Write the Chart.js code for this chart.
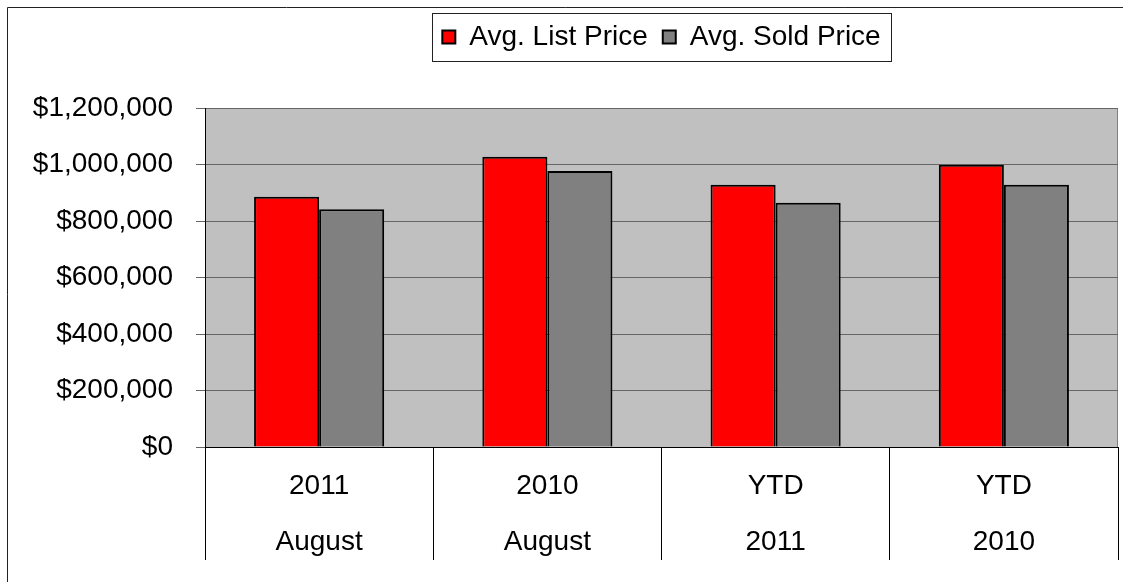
<!DOCTYPE html>
<html lang="en">
<head>
  <meta charset="UTF-8" />
  <title>Avg. List Price vs Avg. Sold Price</title>
  <script src="https://cdn.jsdelivr.net/npm/chart.js"></script>
  <style>
    body { margin: 0; padding: 0; background: #fff; }
    canvas { display: block; }
  </style>
</head>
<body>
<canvas id="priceChart" width="1123" height="582"></canvas>
<script>
// values
const categories = [['2011', 'August'], ['2010', 'August'], ['YTD', '2011'], ['YTD', '2010']];
const listPrice = [886000, 1027000, 928000, 999000];
const soldPrice = [842000, 977000, 865000, 928000];
const seriesNames = ['Avg. List Price', 'Avg. Sold Price'];

const FONT = "'Liberation Sans', Arial, sans-serif";

// plot background, outer frame and the box round the legend
const framePlugin = {
  id: 'frame',
  beforeInit(chart) {
    // leave room between legend and plot, like the original
    const fit = chart.legend.fit;
    chart.legend.fit = function () {
      fit.call(this);
      this.height += 47;
    };
  },
  beforeDraw(chart) {
    const { ctx, chartArea: a } = chart;
    ctx.save();
    ctx.fillStyle = '#c0c0c0';
    ctx.fillRect(a.left, a.top, a.right - a.left, a.bottom - a.top);
    ctx.strokeStyle = '#808080';
    ctx.lineWidth = 1;
    ctx.beginPath();
    ctx.moveTo(a.right - 0.5, a.top);
    ctx.lineTo(a.right - 0.5, a.bottom);
    ctx.stroke();
    ctx.strokeStyle = '#222';
    ctx.beginPath();
    ctx.moveTo(7.5, chart.height);
    ctx.lineTo(7.5, 7.5);
    ctx.lineTo(chart.width, 7.5);
    ctx.stroke();
    ctx.restore();
  },
  afterDraw(chart) {
    const boxes = chart.legend.legendHitBoxes;
    if (!boxes || !boxes.length) return;
    const first = boxes[0], last = boxes[boxes.length - 1];
    const { ctx } = chart;
    ctx.save();
    ctx.strokeStyle = '#222';
    ctx.lineWidth = 1;
    const x0 = Math.round(first.left - 10) + 0.5;
    const x1 = Math.round(last.left + last.width + 10) + 0.5;
    const y0 = Math.round(first.top - 10) + 0.5;
    const y1 = Math.round(first.top + first.height + 10) + 0.5;
    ctx.strokeRect(x0, y0, x1 - x0, y1 - y0);
    ctx.restore();
  }
};

new Chart(document.getElementById('priceChart'), {
  type: 'bar',
  data: {
    labels: categories,
    datasets: [
      { label: seriesNames[0], data: listPrice, backgroundColor: '#ff0000', borderColor: '#000', borderWidth: 2 },
      { label: seriesNames[1], data: soldPrice, backgroundColor: '#808080', borderColor: '#000', borderWidth: 2 }
    ]
  },
  options: {
    responsive: false,
    animation: false,
    devicePixelRatio: 1,
    layout: { padding: { left: 0, right: 5, top: 8, bottom: 0 } },
    datasets: { bar: { categoryPercentage: 0.57, barPercentage: 1.0 } },
    plugins: {
      tooltip: { enabled: false },
      legend: {
        position: 'top',
        fullSize: false,
        labels: {
          boxWidth: 13,
          boxHeight: 13,
          padding: 15,
          color: '#000',
          font: { family: FONT, size: 28 }
        }
      }
    },
    scales: {
      x: {
        afterFit(s) { s.height = 135; },
        grid: { offset: true, drawOnChartArea: false, tickLength: 113, color: '#000', lineWidth: 1 },
        border: { color: '#000', width: 1 },
        ticks: {
          color: '#000',
          maxRotation: 0,
          autoSkip: false,
          padding: -102,
          font: { family: FONT, size: 28, lineHeight: 2 }
        }
      },
      y: {
        min: 0,
        max: 1200000,
        afterFit(s) { s.width = 205; },
        grid: { color: '#666', lineWidth: 1, tickLength: 9 },
        border: { color: '#000', width: 1 },
        ticks: {
          stepSize: 200000,
          color: '#000',
          padding: 23,
          font: { family: FONT, size: 28 },
          callback: v => '$' + v.toLocaleString('en-US')
        }
      }
    }
  },
  plugins: [framePlugin]
});
</script>
</body>
</html>
